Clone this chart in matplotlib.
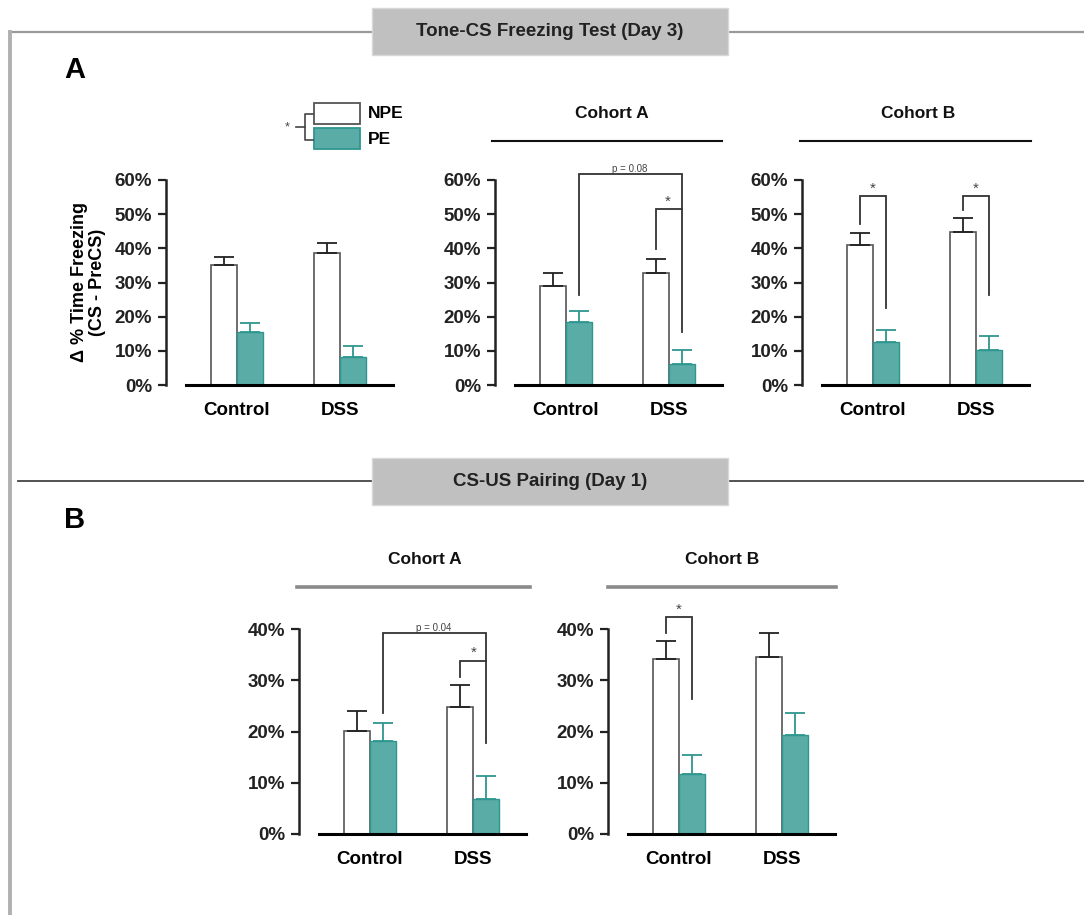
import matplotlib
matplotlib.use("Agg")
import matplotlib.pyplot as plt
from matplotlib.patches import Rectangle

plt.rcParams["font.family"] = ["Liberation Sans", "DejaVu Sans"]
plt.rcParams["font.weight"] = "bold"
plt.rcParams["axes.labelweight"] = "bold"

groups = ["Control", "DSS"]

# Tone-CS freezing test (day 3): pooled, cohort A, cohort B
pool_npe = [35.1, 38.6]
pool_npe_err = [2.3, 3.0]
pool_pe = [15.5, 8.2]
pool_pe_err = [2.6, 3.2]

tone_a_npe = [29.0, 32.8]
tone_a_npe_err = [3.8, 4.1]
tone_a_pe = [18.4, 6.1]
tone_a_pe_err = [3.3, 4.1]

tone_b_npe = [41.0, 44.8]
tone_b_npe_err = [3.5, 4.1]
tone_b_pe = [12.6, 10.2]
tone_b_pe_err = [3.5, 4.1]

# CS-US pairing (day 1): cohort A, cohort B
pair_a_npe = [20.1, 24.8]
pair_a_npe_err = [3.9, 4.3]
pair_a_pe = [18.1, 6.8]
pair_a_pe_err = [3.5, 4.5]

pair_b_npe = [34.1, 34.5]
pair_b_npe_err = [3.6, 4.7]
pair_b_pe = [11.7, 19.3]
pair_b_pe_err = [3.7, 4.3]

TEAL = "#5aaca7"
TEAL_EDGE = "#2f968f"
GREY_EDGE = "#555555"

W, H = 1084, 915
fig = plt.figure(figsize=(W / 100, H / 100), dpi=100)

# overlay in pixel units for frames, headers and legend
ov = fig.add_axes([0, 0, 1, 1], zorder=0)
ov.set_xlim(0, W)
ov.set_ylim(H, 0)
ov.axis("off")


def panel(cx, y0, ytop, ymax, npe, npe_err, pe, pe_err):
    step = 103.0
    left = cx - 0.69 * step
    ax = fig.add_axes([left / W, (H - y0) / H, 2.2 * step / W, (y0 - ytop) / H], zorder=2)
    ax.patch.set_alpha(0)
    x = [0, 1]
    bw = 0.25
    xn = [i - bw / 2 for i in x]
    xp = [i + bw / 2 for i in x]
    ax.bar(xn, npe, bw, color="white", edgecolor=GREY_EDGE, linewidth=1.2, zorder=2)
    ax.bar(xp, pe, bw, color=TEAL, edgecolor=TEAL_EDGE, linewidth=1.0, zorder=2)
    ax.errorbar(xn, npe, yerr=[[0, 0], npe_err], fmt="none", ecolor="#222222",
                elinewidth=1.3, capsize=7.5, capthick=1.3, zorder=3)
    ax.errorbar(xp, pe, yerr=[[0, 0], pe_err], fmt="none", ecolor=TEAL_EDGE,
                elinewidth=1.3, capsize=7.5, capthick=1.3, zorder=3)
    ax.set_xlim(-0.69, 1.51)
    ax.set_ylim(0, ymax)
    ax.axhline(0, xmin=0.19 / 2.2, xmax=1, color="black", lw=2.2, zorder=4, clip_on=False)
    for s in ["top", "right", "bottom"]:
        ax.spines[s].set_visible(False)
    ax.spines["left"].set_linewidth(1.8)
    ax.spines["left"].set_color("#222222")
    ax.set_yticks(range(0, ymax + 1, 10))
    ax.set_yticklabels([f"{v}%" for v in range(0, ymax + 1, 10)])
    ax.tick_params(axis="y", length=6, width=1.6, labelsize=13.5, pad=4, colors="#222222")
    ax.set_xticks(x)
    ax.set_xticklabels(groups)
    ax.tick_params(axis="x", length=0, labelsize=13.5, pad=12)
    return ax


def bracket(ax, x1, x2, y1, ytop, y2, label="*", tx=None, size=11, color="#333333"):
    ax.plot([x1, x1, x2, x2], [y1, ytop, ytop, y2], color=color, lw=1.3,
            clip_on=False, zorder=5, solid_joinstyle="miter")
    if label:
        ax.text((x1 + x2) / 2 if tx is None else tx, ytop, label, ha="center",
                va="bottom", fontsize=size, fontweight="normal", color="#444444")


# panel A
a1 = panel(237, 385, 180, 60, pool_npe, pool_npe_err, pool_pe, pool_pe_err)
a1.set_ylabel("Δ % Time Freezing\n(CS - PreCS)", fontsize=13, labelpad=6, linespacing=1.1)

a2 = panel(566, 385, 180, 60, tone_a_npe, tone_a_npe_err, tone_a_pe, tone_a_pe_err)
bracket(a2, 0.125, 1.125, 26.3, 61.7, 15.5, "p = 0.08", tx=0.62, size=7)
bracket(a2, 0.875, 1.125, 39.8, 51.5, 51.5, None)
a2.text(0.99, 51.7, "*", ha="center", va="bottom", fontsize=11, fontweight="normal", color="#444444")

a3 = panel(873, 385, 180, 60, tone_b_npe, tone_b_npe_err, tone_b_pe, tone_b_pe_err)
bracket(a3, -0.125, 0.125, 47.1, 55.3, 22.5)
bracket(a3, 0.875, 1.125, 51.2, 55.3, 26.3)

# panel B
b1 = panel(370, 834, 629, 40, pair_a_npe, pair_a_npe_err, pair_a_pe, pair_a_pe_err)
bracket(b1, 0.125, 1.125, 23.6, 39.2, 17.8, "p = 0.04", tx=0.62, size=7)
bracket(b1, 0.875, 1.125, 30.6, 33.8, 33.8, None)
b1.text(1.01, 34.0, "*", ha="center", va="bottom", fontsize=11, fontweight="normal", color="#444444")

b2 = panel(679, 834, 629, 40, pair_b_npe, pair_b_npe_err, pair_b_pe, pair_b_pe_err)
bracket(b2, -0.125, 0.125, 39.2, 42.3, 26.3)

# frames and section headers
ov.plot([10, W], [32, 32], color="#9a9a9a", lw=1.6)
ov.plot([10, 10], [32, H], color="#b0b0b0", lw=2.8)
ov.plot([18, W], [481, 481], color="#444444", lw=1.3)
for yb, title in [(8, "Tone-CS Freezing Test (Day 3)"), (458, "CS-US Pairing (Day 1)")]:
    ov.add_patch(Rectangle((372, yb), 356, 47, facecolor="#c0c0c0", edgecolor="#d8d8d8", lw=1, zorder=3))
    ov.text(550, yb + 23.5, title, ha="center", va="center", fontsize=13.5,
            family=["Liberation Sans Narrow", "Liberation Sans"], fontweight="bold",
            color="#222222", zorder=4)
ov.text(64, 70, "A", fontsize=21, ha="left", va="center", family=["Liberation Sans Narrow", "Liberation Sans"])
ov.text(64, 520, "B", fontsize=21, ha="left", va="center", family=["Liberation Sans Narrow", "Liberation Sans"])

# cohort headers
for cx, x0, x1, y, col, lw in [(612, 492, 722, 141, "#111111", 1.5),
                               (918, 800, 1031, 141, "#111111", 1.5),
                               (425, 297, 530, 587, "#8a8a8a", 2.6),
                               (722, 608, 836, 587, "#8a8a8a", 2.6)]:
    name = "Cohort A" if cx in (612, 425) else "Cohort B"
    ov.text(cx, y - 28, name, ha="center", va="center", fontsize=12.5,
            family=["Liberation Sans Narrow", "Liberation Sans"], color="#111111")
    ov.plot([x0, x1], [y, y], color=col, lw=lw)

# legend
ov.add_patch(Rectangle((314, 103), 46, 21, facecolor="white", edgecolor=GREY_EDGE, lw=1.3))
ov.add_patch(Rectangle((314, 128), 46, 21, facecolor=TEAL, edgecolor=TEAL_EDGE, lw=1.3))
ov.text(368, 114, "NPE", ha="left", va="center", fontsize=12.5)
ov.text(368, 139, "PE", ha="left", va="center", fontsize=12.5)
ov.plot([313, 305, 305, 313], [114, 114, 140, 140], color="#444444", lw=1.2)
ov.plot([296, 305], [127, 127], color="#444444", lw=1.2)
ov.text(287, 127, "*", ha="center", va="center", fontsize=9, fontweight="normal", color="#444444")

fig.savefig("out.png", dpi=100)
